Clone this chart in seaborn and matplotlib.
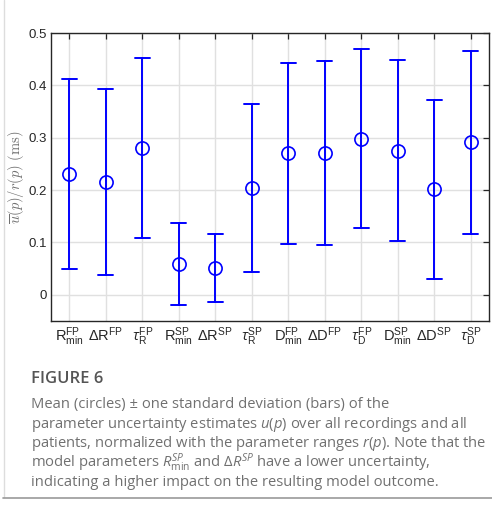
import matplotlib
matplotlib.use("Agg")
import numpy as np
import pandas as pd
import matplotlib.pyplot as plt
import seaborn as sns
from matplotlib.lines import Line2D

# ---------------- data ----------------
param_keys = ["Rmin_FP", "dR_FP", "tauR_FP", "Rmin_SP", "dR_SP", "tauR_SP",
              "Dmin_FP", "dD_FP", "tauD_FP", "Dmin_SP", "dD_SP", "tauD_SP"]
tick_labels = [
    r"$\mathsf{R}^{\mathsf{FP}}_{\mathsf{min}}$",
    r"$\mathsf{\Delta R}^{\mathsf{FP}}$",
    r"$\tau^{\mathsf{FP}}_{\mathsf{R}}$",
    r"$\mathsf{R}^{\mathsf{SP}}_{\mathsf{min}}$",
    r"$\mathsf{\Delta R}^{\mathsf{SP}}$",
    r"$\tau^{\mathsf{SP}}_{\mathsf{R}}$",
    r"$\mathsf{D}^{\mathsf{FP}}_{\mathsf{min}}$",
    r"$\mathsf{\Delta D}^{\mathsf{FP}}$",
    r"$\tau^{\mathsf{FP}}_{\mathsf{D}}$",
    r"$\mathsf{D}^{\mathsf{SP}}_{\mathsf{min}}$",
    r"$\mathsf{\Delta D}^{\mathsf{SP}}$",
    r"$\tau^{\mathsf{SP}}_{\mathsf{D}}$",
]
means = [0.231, 0.216, 0.281, 0.059, 0.051, 0.204,
         0.270, 0.271, 0.298, 0.275, 0.202, 0.291]
stds = [0.181, 0.178, 0.172, 0.078, 0.065, 0.160,
        0.1725, 0.176, 0.1705, 0.1725, 0.171, 0.1755]
y_ticks = [0, 0.1, 0.2, 0.3, 0.4, 0.5]
y_tick_labels = ["0", "0.1", "0.2", "0.3", "0.4", "0.5"]

caption_title = "FIGURE 6"
caption_lines = [
    "Mean (circles) \u00b1 one standard deviation (bars) of the",
    r"parameter uncertainty estimates $u$($p$) over all recordings and all",
    r"patients, normalized with the parameter ranges $r$($p$). Note that the",
    r"model parameters $R^{SP}_{\mathrm{min}}$ and $\Delta R^{SP}$ have a lower uncertainty,",
    "indicating a higher impact on the resulting model outcome.",
]

# long-form table: lower and upper end of each bar (mean of the two = mean)
rows = []
for k, m, s in zip(param_keys, means, stds):
    rows.append({"param": k, "value": m - s})
    rows.append({"param": k, "value": m + s})
df = pd.DataFrame(rows)

# ---------------- style ----------------
sns.set_theme(style="white")
plt.rcParams["font.family"] = ["Liberation Sans", "DejaVu Sans"]
plt.rcParams["mathtext.fontset"] = "custom"
plt.rcParams["mathtext.rm"] = "Open Sans"
plt.rcParams["mathtext.it"] = "Open Sans:italic"
plt.rcParams["mathtext.bf"] = "Open Sans:bold"
plt.rcParams["mathtext.sf"] = "Liberation Sans"

W, H = 492, 507
fig = plt.figure(figsize=(W / 100, H / 100), dpi=100)
ax = fig.add_axes([51 / W, 1 - 321 / H, (489 - 51) / W, (321 - 33) / H])

blue = "#0000ff"
sns.pointplot(data=df, x="param", y="value", order=param_keys,
              estimator="mean", errorbar=("pi", 100),
              linestyle="none", marker="o", color=blue,
              markersize=9.5, markerfacecolor="none", markeredgewidth=1.2,
              capsize=0.42, err_kws={"linewidth": 1.4}, ax=ax)

ax.set_xlim(-0.5, len(param_keys) - 0.5)
ax.set_ylim(-0.05, 0.5)
ax.set_yticks(y_ticks)
ax.set_yticklabels(y_tick_labels)
ax.set_xticks(range(len(param_keys)))
ax.set_xticklabels(tick_labels, fontsize=10.5)
ax.set_xlabel("")
ax.set_ylabel(r"$\overline{u}(p)/r(p)\ (\mathrm{ms})$", math_fontfamily="cm",
              color="#707070", fontsize=10.5)
ax.yaxis.label.set_verticalalignment("center")
ax.yaxis.set_label_coords((16 - 51) / (489 - 51), 0.5)

ax.grid(True, color="#e0e0e0", linewidth=1)
ax.set_axisbelow(True)
ax.tick_params(direction="in", top=True, right=True, length=4, width=0.9,
               color="#262626", labelcolor="#262626", pad=3)
ax.tick_params(axis="y", labelsize=9.5)
for sp in ax.spines.values():
    sp.set_color("#262626")
    sp.set_linewidth(1.0)
    sp.set_visible(True)

# ---------------- caption & frame ----------------
fig.text(31 / W, 1 - 383 / H, caption_title, fontsize=12, color="#555555",
         family=["Open Sans", "DejaVu Sans"], fontweight="semibold",
         va="baseline", ha="left")
for i, line in enumerate(caption_lines):
    fig.text(31 / W, 1 - (408 + 19.5 * i) / H, line, fontsize=10.6,
             color="#707070", family=["Open Sans", "DejaVu Sans"],
             va="baseline", ha="left")

fig.add_artist(Line2D([3.5 / W, 3.5 / W], [1 - 497 / H, 1],
                      transform=fig.transFigure, color="#dddddd", linewidth=1))
fig.add_artist(Line2D([3 / W, 1], [1 - 497.5 / H, 1 - 497.5 / H],
                      transform=fig.transFigure, color="#999999", linewidth=1.2))

fig.savefig("out.png", dpi=100)
